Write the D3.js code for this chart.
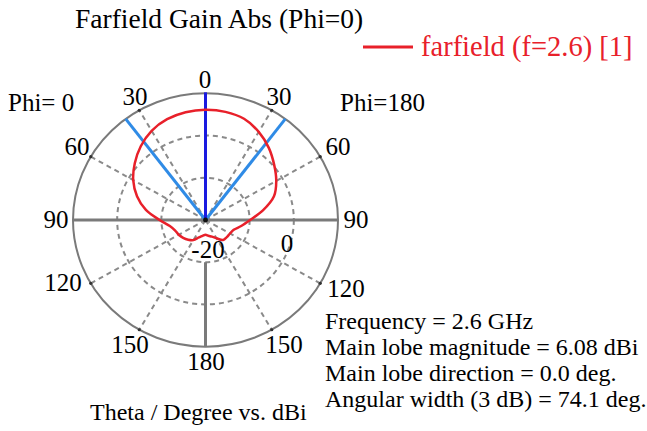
<!DOCTYPE html>
<html><head><meta charset="utf-8">
<script src="https://cdn.jsdelivr.net/npm/d3@7"></script>
<style>body{margin:0;background:#fff}svg{display:block}text{font-family:"Liberation Serif","Times New Roman",serif;fill:#000}</style>
</head><body>
<svg id="c" width="647" height="431"></svg>
<script>
// ---- data ----
const theta = [0,10,20,30,40,50,60,70,80,90,100,110,120,130,140,150,160,170,180];
const gainPhi0 = [6.1,5.9,5.4,4.4,2.8,0.9,-1.1,-3.5,-6.3,-9.6,-11.8,-12.7,-13.0,-13.4,-13.9,-14.5,-15.6,-16.2,-16.5];
const gainPhi180 = [6.1,6.0,5.5,4.1,2.3,0.3,-1.5,-3.5,-6.8,-9.9,-11.8,-13.2,-13.6,-13.7,-13.8,-15.0,-15.8,-16.2,-16.5];
const ringValues = [-20,-10,0,10];
const radialLabels = ["-20","0"];
const spokeAngles = [30,60,120,150,-30,-60,-120,-150];
const angleLabels = ["0","30","60","90","120","150","180","150","120","90","60","30"];
const beamWidth = 74.1;
const infoLines = ["Frequency = 2.6 GHz","Main lobe magnitude = 6.08 dBi","Main lobe direction = 0.0 deg.","Angular width (3 dB) = 74.1 deg."];

// ---- layout ----
const svg = d3.select("#c");
const cx = 205.5, cy = 220, R = 132.5, ky = 126.7/132.5;
const r = d3.scaleLinear().domain([-20,10]).range([0,R]);
const rad = d => d*Math.PI/180;

const g = svg.append("g").attr("transform",`translate(${cx},${cy}) scale(1,${ky})`);
const ns = s => s.attr("vector-effect","non-scaling-stroke");

// dashed rings
g.selectAll("circle.ring").data(ringValues.slice(1,3)).join("circle")
  .attr("r", d=>r(d)).attr("fill","none").attr("stroke","#8a8a8a").attr("stroke-width",2)
  .attr("stroke-dasharray","5,4").call(ns);
// dashed spokes
g.selectAll("line.sp").data(spokeAngles).join("line")
  .attr("x1",0).attr("y1",0)
  .attr("x2",d=>r(10)*Math.sin(rad(d))).attr("y2",d=>-r(10)*Math.cos(rad(d)))
  .attr("stroke","#8a8a8a").attr("stroke-width",2).attr("stroke-dasharray","5,4").call(ns);
// outer circle
g.append("circle").attr("r",r(10)).attr("fill","none").attr("stroke","#7a7a7a").attr("stroke-width",2).call(ns);
// tick dots
g.selectAll("circle.tk").data(spokeAngles).join("circle")
  .attr("cx",d=>r(10)*Math.sin(rad(d))).attr("cy",d=>-r(10)*Math.cos(rad(d))).attr("r",1.6).attr("fill","#333");
// horizontal axis
g.append("line").attr("x1",-r(10)).attr("x2",r(10)).attr("y1",0).attr("y2",0)
  .attr("stroke","#7a7a7a").attr("stroke-width",3).call(ns);
// 180 spoke
g.append("line").attr("x1",0).attr("x2",0).attr("y1",r(-10)).attr("y2",r(10))
  .attr("stroke","#7a7a7a").attr("stroke-width",3).call(ns);

// beam width lines
g.selectAll("line.bw").data([-beamWidth/2, beamWidth/2]).join("line")
  .attr("x1",0).attr("y1",0)
  .attr("x2",d=>r(10)*Math.sin(rad(d))).attr("y2",d=>-r(10)*Math.cos(rad(d)))
  .attr("stroke","#2f8be6").attr("stroke-width",3).call(ns);
// main lobe direction
g.append("line").attr("x1",0).attr("y1",0).attr("x2",0).attr("y2",-r(10)-1)
  .attr("stroke","#1a1ae0").attr("stroke-width",3).call(ns);

// curve
const pts = [];
theta.forEach((t,i)=>{ if(t<180) pts.push({a:t, v:gainPhi180[i]}); });
for(let i=theta.length-1;i>=1;i--) pts.push({a:-theta[i], v:gainPhi0[i]});
const line = d3.lineRadial().angle(d=>rad(d.a)).radius(d=>r(d.v)).curve(d3.curveCatmullRomClosed);
g.append("path").attr("d",line(pts)).attr("fill","none").attr("stroke","#e8202a").attr("stroke-width",2.5).call(ns);
g.append("circle").attr("r",2.5).attr("fill","#111");

// angle labels
const alab = [
  [0,205,88],[1,135,105],[2,77,155],[3,56,228],[4,63,291],[5,130,353],[6,206,370],
  [7,284,353],[8,346,297],[9,356,228],[10,338,155],[11,279,105]
];
svg.selectAll("text.al").data(alab).join("text")
  .attr("x",d=>d[1]).attr("y",d=>d[2]).attr("text-anchor","middle").attr("font-size",25)
  .text(d=>angleLabels[d[0]]);
// radial labels
svg.append("text").attr("x",208).attr("y",258).attr("text-anchor","middle").attr("font-size",25).text(radialLabels[0]);
svg.append("text").attr("x",287).attr("y",252).attr("text-anchor","middle").attr("font-size",25).text(radialLabels[1]);

svg.append("text").attr("x",8).attr("y",111).attr("font-size",25).text("Phi= 0");
svg.append("text").attr("x",340).attr("y",111).attr("font-size",25).text("Phi=180");

// title & legend
svg.append("text").attr("x",75).attr("y",28).attr("font-size",27.5).text("Farfield Gain Abs (Phi=0)");
svg.append("line").attr("x1",363).attr("x2",413).attr("y1",47).attr("y2",47).attr("stroke","#e8202a").attr("stroke-width",3);
svg.append("text").attr("x",421).attr("y",56).attr("font-size",28.5).style("fill","#e8202a").text("farfield (f=2.6) [1]");

// info
svg.selectAll("text.info").data(infoLines).join("text")
  .attr("x",325).attr("y",(d,i)=>329+i*26).attr("font-size",24).text(d=>d);
svg.append("text").attr("x",90).attr("y",420).attr("font-size",24).text("Theta / Degree vs. dBi");
</script>
</body></html>
